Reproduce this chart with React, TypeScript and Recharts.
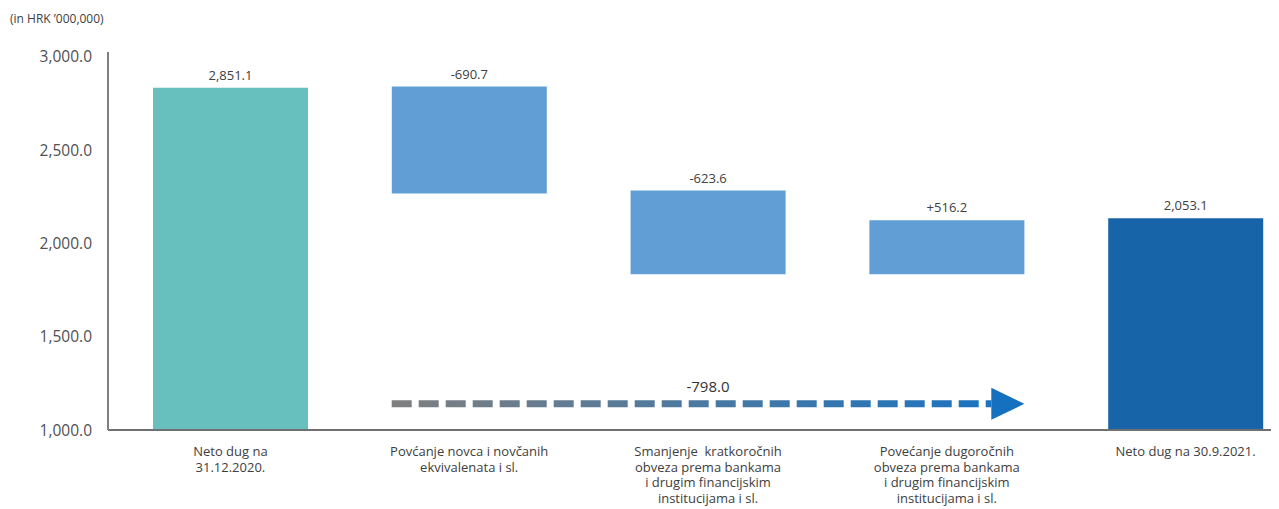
import React from 'react';
import { BarChart, Bar, XAxis, YAxis, Cell, LabelList, ReferenceLine } from 'recharts';

// categories (line breaks are kept as in the picture)
const categories = [
  'Neto dug na\n31.12.2020.',
  'Povćanje novca i novčanih\nekvivalenata i sl.',
  'Smanjenje  kratkoročnih\nobveza prema bankama\ni drugim financijskim\ninstitucijama i sl.',
  'Povećanje dugoročnih\nobveza prema bankama\ni drugim financijskim\ninstitucijama i sl.',
  'Neto dug na 30.9.2021.',
];

// bar bottoms / tops as drawn in the picture (HRK '000,000)
const barLow = [0, 2267, 1834, 1834, 0];
const barHigh = [2834, 2840, 2283, 2123, 2134];
const valueLabels = ['2,851.1', '-690.7', '-623.6', '+516.2', '2,053.1'];

const yTicks = [1000, 1500, 2000, 2500, 3000];

// total change arrow
const arrowLevel = 1140;
const arrowLabel = '-798.0';

const barColors = ['#67c0be', '#619ed5', '#619ed5', '#619ed5', '#1764a8'];
const BAR_SIZE = 155;
const FONT = '"Open Sans", sans-serif';

const data = categories.map((name, i) => ({
  name,
  range: [barLow[i], barHigh[i]],
  label: valueLabels[i],
}));

const fmt = (v: number) =>
  v.toLocaleString('en-US', { minimumFractionDigits: 1, maximumFractionDigits: 1 });

const CategoryTick = (props: any) => {
  const { x, y, payload } = props;
  const lines = String(payload.value).split('\n');
  return (
    <text x={x} y={y} textAnchor="middle" fill="#404040" fontSize={13} fontFamily={FONT} style={{ whiteSpace: 'pre' }}>
      {lines.map((l, i) => (
        <tspan key={i} x={x} dy={i === 0 ? 14 : 15.6}>
          {l}
        </tspan>
      ))}
    </text>
  );
};

const ArrowShape = (props: any) => {
  const { x1, x2, y1 } = props;
  const start = x1 - BAR_SIZE / 2;
  const tip = x2 + BAR_SIZE / 2;
  const headLen = 33;
  const headHalf = 16;
  return (
    <g>
      <defs>
        <linearGradient id="arrowGrad" gradientUnits="userSpaceOnUse" x1={start} y1={0} x2={tip} y2={0}>
          <stop offset="0" stopColor="#7f7f7f" />
          <stop offset="1" stopColor="#1472c4" />
        </linearGradient>
      </defs>
      <line
        x1={start}
        y1={y1}
        x2={tip - headLen}
        y2={y1}
        stroke="url(#arrowGrad)"
        strokeWidth={7}
        strokeDasharray="20 7"
      />
      <polygon
        points={`${tip - headLen},${y1 - headHalf} ${tip},${y1} ${tip - headLen},${y1 + headHalf}`}
        fill="#1570c0"
      />
      <text x={(start + tip) / 2} y={y1 - 12} textAnchor="middle" fontSize={15} fill="#333" fontFamily={FONT}>
        {arrowLabel}
      </text>
    </g>
  );
};

export default function App() {
  return (
    <div style={{ position: 'relative', width: 1271, height: 501, fontFamily: FONT }}>
      <div style={{ position: 'absolute', left: 2, top: 2, fontSize: 12, color: '#404040' }}>
        (in HRK ’000,000)
      </div>
      <BarChart width={1271} height={501} data={data} margin={{ top: 44, right: 0, left: 0, bottom: 0 }}>
        <XAxis
          dataKey="name"
          interval={0}
          height={79}
          padding={{ left: 3, right: -26 }}
          tickLine={false}
          tickSize={0}
          tickMargin={12}
          axisLine={{ stroke: '#707070', strokeWidth: 2 }}
          tick={<CategoryTick />}
        />
        <YAxis
          width={100}
          domain={[1000, 3025]}
          ticks={yTicks}
          allowDataOverflow
          tickFormatter={fmt}
          tickLine={false}
          tickSize={0}
          tickMargin={16}
          axisLine={{ stroke: '#7f7f7f', strokeWidth: 2 }}
          tick={{ fontSize: 15.5, fill: '#505050', fontFamily: FONT }}
        />
        <Bar dataKey="range" barSize={BAR_SIZE} isAnimationActive={false}>
          {data.map((d, i) => (
            <Cell key={d.name} fill={barColors[i]} />
          ))}
          <LabelList dataKey="label" position="top" offset={8} fontSize={13} fill="#404040" fontFamily={FONT} />
        </Bar>
        <ReferenceLine
          segment={[
            { x: categories[1], y: arrowLevel },
            { x: categories[3], y: arrowLevel },
          ]}
          shape={<ArrowShape />}
        />
      </BarChart>
    </div>
  );
}
